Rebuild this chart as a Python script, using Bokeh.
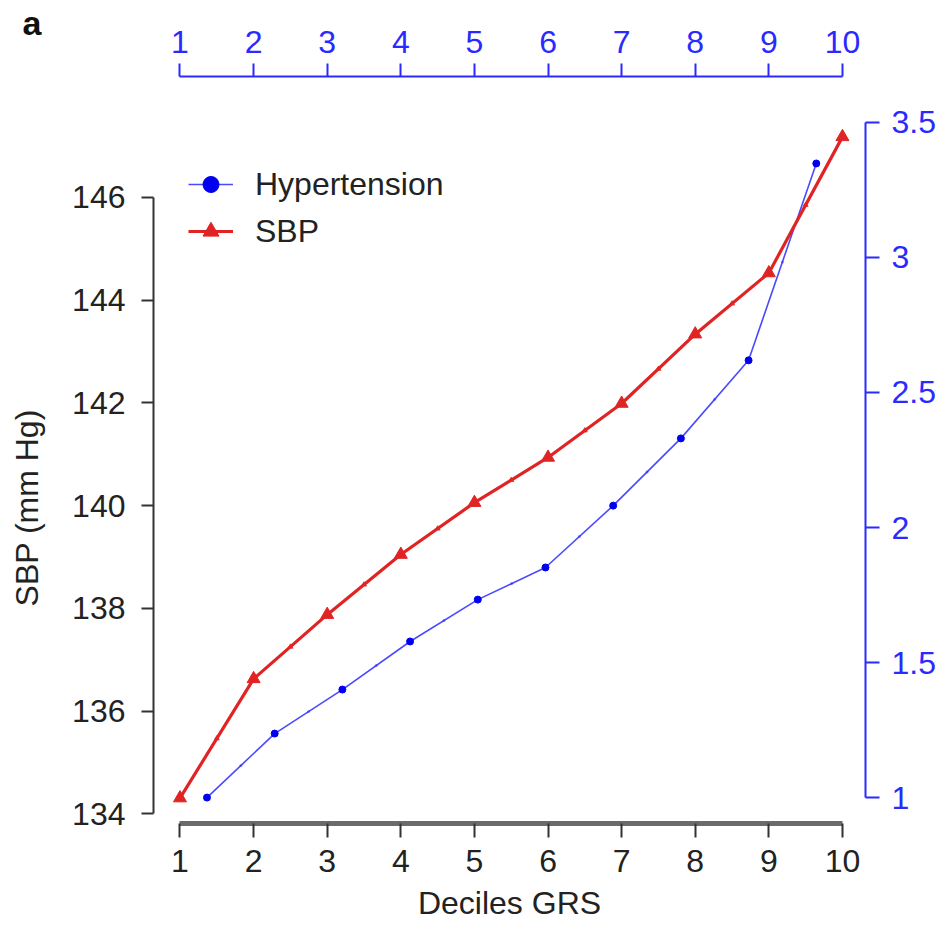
import math
from bokeh.plotting import figure
from bokeh.models import (Range1d, LinearAxis, FixedTicker, Legend, LegendItem)
from bokeh.embed import file_html
from bokeh.resources import INLINE

# ---- data ----
deciles = [1, 2, 3, 4, 5, 6, 7, 8, 9, 10]
sbp = [134.31, 136.63, 137.88, 139.05, 140.06, 140.94, 141.99, 143.34, 144.53, 147.18]
hypertension = [1.00, 1.237, 1.40, 1.578, 1.733, 1.852, 2.081, 2.33, 2.619, 3.348]
left_ticks = [134, 136, 138, 140, 142, 144, 146]
right_ticks = [1, 1.5, 2, 2.5, 3, 3.5]
x_ticks = [1, 2, 3, 4, 5, 6, 7, 8, 9, 10]

FONT = "Liberation Sans"
BLUE = "#2a2aff"
RED = "#e02424"

X0, X1 = 0.640, 10.313
Y0, Y1 = 133.815, 148.355

p = figure(width=945, height=930, output_backend="svg", toolbar_location=None,
           title="a",
           x_range=Range1d(X0, X1), y_range=Range1d(Y0, Y1),
           x_axis_location=None, y_axis_location=None,
           min_border_left=153, min_border_right=80,
           min_border_top=76, min_border_bottom=107)
p.outline_line_color = None
p.xgrid.grid_line_color = None
p.ygrid.grid_line_color = None
p.background_fill_color = "white"
p.border_fill_color = "white"

# panel letter as a zero-height title pulled to the top-left corner
p.title.text_font = FONT
p.title.text_font_size = "34px"
p.title.text_font_style = "bold"
p.title.text_color = "#111111"
p.title.align = "left"
p.title.offset = -131
p.title.standoff = -32
p.title.vertical_align = "top"

p.extra_y_ranges = {"hyp": Range1d(0.904, 3.670)}
p.extra_x_ranges = {"hypx": Range1d(0.210, 10.727)}

def style(ax, color, line_color, line_width, tick_len, standoff):
    ax.major_label_text_font = FONT
    ax.major_label_text_font_size = "32px"
    ax.major_label_text_color = color
    ax.axis_line_color = line_color
    ax.axis_line_width = line_width
    ax.major_tick_line_color = line_color
    ax.major_tick_line_width = 2
    ax.major_tick_out = tick_len
    ax.major_tick_in = 0
    ax.minor_tick_line_color = None
    ax.major_label_standoff = standoff
    ax.axis_label_text_font = FONT
    ax.axis_label_text_font_size = "32px"
    ax.axis_label_text_font_style = "normal"
    ax.axis_label_text_color = "#222222"

yl = LinearAxis(ticker=FixedTicker(ticks=left_ticks),
                axis_label="SBP (mm Hg)" + "\u00a0" * 13)
style(yl, "#222222", "#333333", 2, 12, 16)
yl.bounds = (134, 146)
yl.axis_label_standoff = 24
p.add_layout(yl, "left")

yr = LinearAxis(y_range_name="hyp", ticker=FixedTicker(ticks=right_ticks))
style(yr, BLUE, BLUE, 2, 14, 12)
yr.bounds = (1, 3.5)
yr.major_label_overrides = {1: "1", 2: "2", 3: "3"}
p.add_layout(yr, "right")

xb = LinearAxis(ticker=FixedTicker(ticks=x_ticks), axis_label="Deciles GRS")
style(xb, "#222222", "#6a6a6a", 5, 14, 12)
xb.major_tick_line_color = "#333333"
xb.bounds = (1, 10)
xb.axis_label_standoff = 10
p.add_layout(xb, "below")

xt = LinearAxis(ticker=FixedTicker(ticks=x_ticks))
style(xt, BLUE, BLUE, 2, 13, 11)
xt.bounds = (1, 10)
p.add_layout(xt, "above")

mid_x = [(a + b) / 2 for a, b in zip(deciles[:-1], deciles[1:])]
mid_sbp = [(a + b) / 2 for a, b in zip(sbp[:-1], sbp[1:])]
mid_hyp = [(a + b) / 2 for a, b in zip(hypertension[:-1], hypertension[1:])]

hl = p.line(deciles, hypertension, x_range_name="hypx", y_range_name="hyp",
            line_color=BLUE, line_width=1.6, line_alpha=0.85)
p.scatter(mid_x, mid_hyp, x_range_name="hypx", y_range_name="hyp",
          marker="circle", size=3, fill_color=BLUE, line_color=None, alpha=0.5)
hs = p.scatter(deciles, hypertension, x_range_name="hypx", y_range_name="hyp",
               marker="circle", size=7, fill_color="#0000ee", line_color="#0000ee")

rl = p.line(deciles, sbp, line_color=RED, line_width=3.2)
p.scatter(mid_x, mid_sbp, marker="triangle", size=5, fill_color=RED, line_color=RED, alpha=0.8)
rs = p.scatter(deciles, sbp, marker="triangle", size=13, fill_color=RED, line_color=RED)

legend = Legend(items=[LegendItem(label="Hypertension", renderers=[hl, hs]),
                       LegendItem(label="SBP", renderers=[rl, rs])],
                location=(35, 572), orientation="vertical")
legend.label_text_font = FONT
legend.label_text_font_size = "32px"
legend.label_text_color = "#222222"
legend.glyph_width = 45
legend.glyph_height = 40
legend.label_height = 40
legend.spacing = 7
legend.padding = 0
legend.margin = 0
legend.label_standoff = 22
legend.border_line_color = None
legend.background_fill_alpha = 0
p.add_layout(legend)

open("out.html", "w").write(file_html(p, INLINE))
